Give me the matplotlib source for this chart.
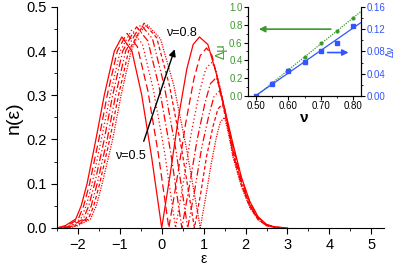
import matplotlib
matplotlib.use("Agg")
import matplotlib.pyplot as plt
from matplotlib.ticker import MultipleLocator
import numpy as np

plt.rcParams['font.family'] = ['Liberation Sans', 'DejaVu Sans']

# n(eps) curves, nu = 0.50 ... 0.80
nu_values = [0.50, 0.55, 0.60, 0.65, 0.70, 0.75, 0.80]

eps_050 = [-2.5, -2.3, -2.05, -1.92, -1.78, -1.57, -1.37, -1.13, -0.95, -0.71, -0.475, -0.24, 0.0,
           0.2, 0.4, 0.6, 0.75, 0.9, 1.1, 1.3, 1.5, 1.7, 1.9, 2.1, 2.3, 2.5, 2.7, 3.0]
n_050 = [0.0, 0.005, 0.02, 0.05, 0.1, 0.2, 0.3, 0.4, 0.432, 0.40, 0.30, 0.16, 0.0,
         0.12, 0.25, 0.36, 0.415, 0.432, 0.415, 0.35, 0.27, 0.19, 0.115, 0.06, 0.025, 0.008, 0.002, 0.0]

eps_055 = [-2.45, -2.25, -1.99, -1.86, -1.72, -1.5, -1.3, -1.06, -0.83, -0.58, -0.33, -0.08, 0.17,
           0.37, 0.57, 0.77, 0.92, 1.07, 1.2, 1.35, 1.5, 1.7, 1.9, 2.1, 2.3, 2.5, 2.7, 2.95]
n_055 = [0.0, 0.005, 0.02, 0.05, 0.1, 0.2, 0.3, 0.4, 0.44, 0.41, 0.31, 0.167, 0.0,
         0.114, 0.236, 0.338, 0.39, 0.407, 0.39, 0.33, 0.265, 0.185, 0.112, 0.058, 0.024, 0.007, 0.002, 0.0]

eps_060 = [-2.4, -2.2, -1.93, -1.8, -1.66, -1.44, -1.23, -0.99, -0.72, -0.46, -0.2, 0.07, 0.33,
           0.52, 0.71, 0.91, 1.05, 1.2, 1.3, 1.4, 1.5, 1.7, 1.9, 2.1, 2.3, 2.5, 2.7, 2.95]
n_060 = [0.0, 0.005, 0.02, 0.05, 0.1, 0.2, 0.3, 0.4, 0.447, 0.416, 0.313, 0.17, 0.0,
         0.105, 0.218, 0.311, 0.36, 0.375, 0.355, 0.315, 0.262, 0.18, 0.108, 0.055, 0.022, 0.007, 0.002, 0.0]

eps_065 = [-2.35, -2.15, -1.87, -1.74, -1.6, -1.37, -1.17, -0.93, -0.6, -0.33, -0.06, 0.21, 0.48,
           0.66, 0.84, 1.03, 1.16, 1.3, 1.42, 1.55, 1.7, 1.9, 2.1, 2.3, 2.5, 2.7, 2.9]
n_065 = [0.0, 0.005, 0.02, 0.05, 0.1, 0.2, 0.3, 0.4, 0.455, 0.423, 0.318, 0.173, 0.0,
         0.095, 0.197, 0.282, 0.326, 0.34, 0.305, 0.245, 0.175, 0.104, 0.052, 0.021, 0.006, 0.0015, 0.0]

eps_070 = [-2.3, -2.1, -1.81, -1.68, -1.54, -1.3, -1.1, -0.86, -0.5, -0.22, 0.06, 0.34, 0.62,
           0.79, 0.95, 1.13, 1.25, 1.38, 1.5, 1.6, 1.7, 1.9, 2.1, 2.3, 2.5, 2.7, 2.9]
n_070 = [0.0, 0.005, 0.02, 0.05, 0.1, 0.2, 0.3, 0.4, 0.46, 0.428, 0.322, 0.175, 0.0,
         0.087, 0.18, 0.257, 0.298, 0.31, 0.27, 0.22, 0.17, 0.1, 0.05, 0.02, 0.006, 0.001, 0.0]

eps_075 = [-2.25, -2.05, -1.75, -1.62, -1.48, -1.24, -1.03, -0.79, -0.42, -0.12, 0.18, 0.48, 0.78,
           0.93, 1.07, 1.23, 1.34, 1.45, 1.55, 1.7, 1.9, 2.1, 2.3, 2.5, 2.7, 2.9]
n_075 = [0.0, 0.005, 0.02, 0.05, 0.1, 0.2, 0.3, 0.4, 0.463, 0.43, 0.324, 0.176, 0.0,
         0.078, 0.162, 0.232, 0.269, 0.28, 0.24, 0.165, 0.097, 0.048, 0.019, 0.005, 0.001, 0.0]

eps_080 = [-2.2, -2.0, -1.7, -1.56, -1.42, -1.17, -0.97, -0.73, -0.55, -0.35, -0.03, 0.29, 0.6, 0.92,
           1.05, 1.18, 1.31, 1.4, 1.5, 1.6, 1.7, 1.9, 2.1, 2.3, 2.5, 2.7, 2.9]
n_080 = [0.0, 0.005, 0.02, 0.05, 0.1, 0.2, 0.3, 0.4, 0.44, 0.46, 0.428, 0.322, 0.175, 0.0,
         0.07, 0.145, 0.208, 0.24, 0.25, 0.21, 0.16, 0.094, 0.046, 0.018, 0.005, 0.001, 0.0]

curves_eps = [eps_050, eps_055, eps_060, eps_065, eps_070, eps_075, eps_080]
curves_n = [n_050, n_055, n_060, n_065, n_070, n_075, n_080]

# inset data
nu_pts = [0.50, 0.55, 0.60, 0.65, 0.70, 0.75, 0.80]
dmu = [0.0, 0.145, 0.29, 0.44, 0.59, 0.73, 0.87]
dnu = [0.0, 0.021, 0.045, 0.061, 0.081, 0.096, 0.126]

red = '#ff0000'
green = '#3a9a2a'
blue = '#3355ff'

# origin-like line style cycle
styles = ['-', (0, (6, 3)), (0, (1, 2)), (0, (6, 2, 1, 2)),
          (0, (6, 2, 1, 2, 1, 2)), (0, (3, 2)), (0, (1, 1))]

fig = plt.figure(figsize=(3.95, 2.65), dpi=100)
ax = fig.add_axes([0.144, 0.14, 0.828, 0.834])

for e, n, ls in zip(curves_eps, curves_n, styles):
    ax.plot(e, n, color=red, lw=0.9, ls=ls)

ax.set_xlim(-2.5, 5.3)
ax.set_ylim(0, 0.5)
ax.xaxis.set_major_locator(MultipleLocator(1))
ax.xaxis.set_minor_locator(MultipleLocator(0.5))
ax.yaxis.set_major_locator(MultipleLocator(0.1))
ax.yaxis.set_minor_locator(MultipleLocator(0.05))
ax.spines['top'].set_visible(False)
ax.spines['right'].set_visible(False)
ax.tick_params(which='both', direction='out', labelsize=10.5)
ax.tick_params(which='major', length=4)
ax.tick_params(which='minor', length=2)
ax.set_xlabel('ε', fontsize=10, labelpad=0)
ax.xaxis.set_label_coords(0.45, -0.108)
ax.set_ylabel('n(ε)', fontsize=14, labelpad=2)

ax.annotate('', xy=(0.33, 0.41), xytext=(-0.45, 0.19),
            arrowprops=dict(arrowstyle='-|>', color='black', lw=1.0, mutation_scale=10))
ax.text(-0.74, 0.163, 'ν=0.5', fontsize=9, ha='center', va='center')
ax.text(0.47, 0.44, 'ν=0.8', fontsize=9, ha='center', va='center')

# inset
ins = fig.add_axes([0.628, 0.638, 0.286, 0.336])
ins2 = ins.twinx()
ins.plot(nu_pts[1:], dmu[1:], 'o', color=green, ms=2)
k1 = np.polyfit(nu_pts, dmu, 1)
xf = np.array([0.5, 0.825])
ins.plot(xf, np.polyval(k1, xf), color=green, lw=0.9, ls=(0, (1, 1)))
ins2.plot(nu_pts, dnu, 's', color=blue, ms=3)
k2 = np.polyfit(nu_pts, dnu, 1)
ins2.plot(xf, np.polyval(k2, xf), color=blue, lw=0.9)

ins.set_xlim(0.475, 0.825)
ins.set_ylim(0, 1.0)
ins2.set_ylim(0, 0.16)
ins.xaxis.set_major_locator(MultipleLocator(0.1))
ins.xaxis.set_minor_locator(MultipleLocator(0.05))
ins.yaxis.set_major_locator(MultipleLocator(0.2))
ins.yaxis.set_minor_locator(MultipleLocator(0.1))
ins2.yaxis.set_major_locator(MultipleLocator(0.04))
ins2.yaxis.set_minor_locator(MultipleLocator(0.02))
ins.set_xticks([0.5, 0.6, 0.7, 0.8])
ins.set_xticklabels(['0.50', '0.60', '0.70', '0.80'])
for a in (ins, ins2):
    a.spines['top'].set_visible(False)
    a.patch.set_alpha(0)
ins.tick_params(which='both', direction='out', labelsize=7, pad=1)
ins.tick_params(which='major', length=3)
ins.tick_params(which='minor', length=1.5)
ins.tick_params(axis='y', colors=green, labelcolor=green)
ins.tick_params(axis='y', which='both', color='black')
ins2.tick_params(which='both', direction='out', labelsize=7, pad=1, labelcolor=blue)
ins2.tick_params(which='major', length=3)
ins2.tick_params(which='minor', length=1.5)
ins2.yaxis.set_major_formatter(plt.FuncFormatter(lambda v, p: '%.2f' % v))
ins.yaxis.set_major_formatter(plt.FuncFormatter(lambda v, p: '%.1f' % v))
ins.set_ylabel('Δμ', color=green, fontsize=9, labelpad=1)
ins2.set_ylabel('Δν', color=blue, fontsize=7, labelpad=0)
ins.set_xlabel('ν', fontsize=11, fontweight='bold', labelpad=0)

ins.annotate('', xy=(0.50, 0.75), xytext=(0.74, 0.75),
             arrowprops=dict(arrowstyle='-|>', color=green, lw=1.2, mutation_scale=9))
ins2.annotate('', xy=(0.795, 0.078), xytext=(0.713, 0.078),
              arrowprops=dict(arrowstyle='-|>', color=blue, lw=1.2, mutation_scale=9))

fig.savefig('out.png', dpi=100)
